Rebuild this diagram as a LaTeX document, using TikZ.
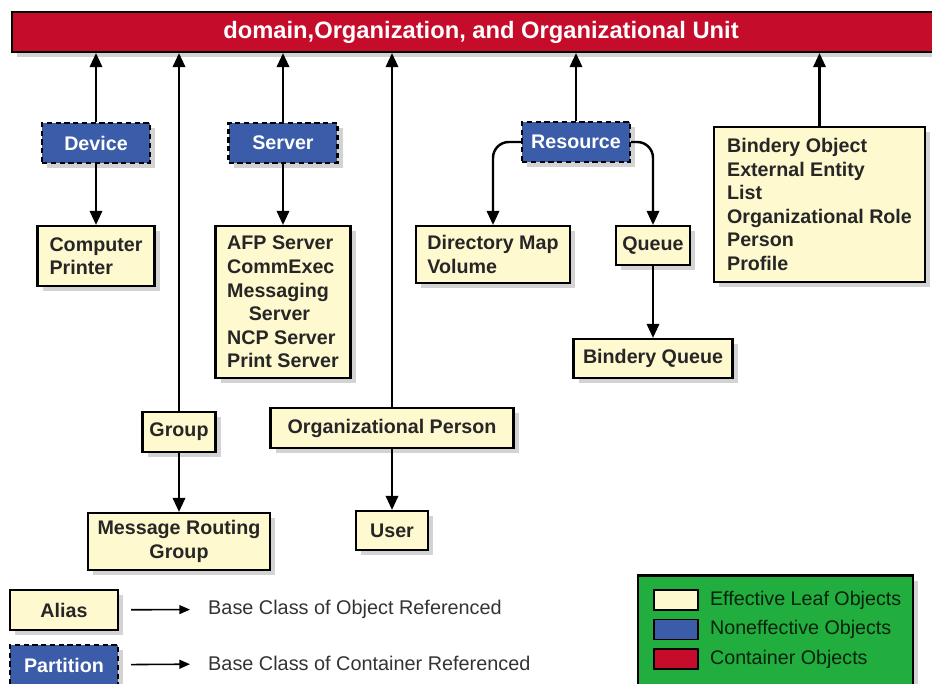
\documentclass[tikz,border=0pt]{standalone}
\usepackage{fontspec}
\setmainfont{Liberation Sans}
\usepackage{tikz}
\usetikzlibrary{positioning, calc, shapes, arrows.meta, shadows}
\definecolor{barred}{HTML}{C60C2B}
\definecolor{leafyellow}{HTML}{FFF9CF}
\definecolor{partblue}{HTML}{3A5CA9}
\definecolor{keygreen}{HTML}{22AD3F}

\begin{document}
\begin{tikzpicture}[x=0.02cm, y=-0.02cm, ->, >={Triangle[width=7pt,length=8pt]}, line width=1.4pt,
  box/.style={draw=black, line width=1.2pt, align=left, inner sep=0pt,
    font=\fontsize{11.2}{13.4}\selectfont\bfseries,
    drop shadow={shadow xshift=3pt, shadow yshift=-3pt, opacity=.35}},
  leaf/.style={box, fill=leafyellow, text=black!85},
  nonleaf/.style={box, fill=partblue, text=white, dash pattern=on 3pt off 2pt},
  swatch/.style={draw=black, line width=1pt, minimum width=0.88cm, minimum height=0.4cm, inner sep=0pt},
  keytext/.style={inner sep=0pt, anchor=west, text=black!80!keygreen, font=\fontsize{11.2}{13}\selectfont},
  basetext/.style={inner sep=0pt, anchor=west, text=black!80, font=\fontsize{11.3}{13}\selectfont}]
  \useasboundingbox (0,0) rectangle (932,683);

  \node[box, fill=barred, text=white, align=center, minimum width=18.76cm, minimum height=0.8cm,
    font=\fontsize{13.5}{15}\selectfont\bfseries] (bar) at (481,32) {domain,Organization, and Organizational Unit};

  \node[nonleaf, minimum width=2.16cm, minimum height=0.8cm] (device) at (96,143) {Device};
  \node[nonleaf, minimum width=2.18cm, minimum height=0.8cm] (server) at (283,143) {Server};
  \node[nonleaf, minimum width=2.16cm, minimum height=0.8cm] (resource) at (576,142) {Resource};

  \node[leaf, minimum width=2.34cm, minimum height=1.2cm] (comp) at (96,256) {Computer\\Printer};
  \node[leaf, minimum width=2.7cm, minimum height=3.04cm] (afp) at (283,302)
    {AFP Server\\CommExec\\Messaging\\\hspace*{1.1em}Server\\NCP Server\\Print Server};
  \node[leaf, minimum width=3.08cm, minimum height=1.14cm] (dirmap) at (493,254.5) {Directory Map\\Volume};
  \node[leaf, minimum width=1.48cm, minimum height=0.78cm] (queue) at (653,245.5) {Queue};
  \node[leaf, minimum width=3.18cm, minimum height=0.78cm] (binderyq) at (653,358.5) {Bindery Queue};
  \node[leaf, minimum width=4.22cm, minimum height=3.1cm] (bindery) at (819.5,204.5)
    {Bindery Object\\External Entity\\List\\Organizational Role\\Person\\Profile};

  \node[leaf, minimum width=1.46cm, minimum height=0.8cm] (group) at (179,432) {Group};
  \node[leaf, align=center, minimum width=3.64cm, minimum height=1.14cm] (msgroute) at (179,541.5) {Message Routing\\Group};
  \node[leaf, minimum width=4.86cm, minimum height=0.8cm] (orgperson) at (392,428) {Organizational Person};
  \node[leaf, minimum width=1.44cm, minimum height=0.78cm] (user) at (392,530.5) {User};

  \path
    (device) edge (device |- bar.south)
    (group) edge (group |- bar.south)
    (server) edge (server |- bar.south)
    (orgperson) edge (orgperson |- bar.south)
    (resource) edge (resource |- bar.south)
    (bindery) edge (bindery |- bar.south)
    (device) edge (comp)
    (server) edge (afp)
    (group) edge (msgroute)
    (orgperson) edge (user)
    (queue) edge (binderyq);
  \draw[rounded corners=9pt] (resource.west) -| (dirmap.north);
  \draw[rounded corners=9pt] (resource.east) -| (queue.north);

  \node[leaf, minimum width=2.16cm, minimum height=0.8cm] (alias) at (64,610) {Alias};
  \node[nonleaf, minimum width=2.16cm, minimum height=0.8cm] (partition) at (64,665) {Partition};
  \node[basetext] (aliasdesc) at (207,609) {Base Class of Object Referenced};
  \node[basetext] (partdesc) at (207,663) {Base Class of Container Referenced};
  \path[line width=0.9pt, >={Triangle[width=5pt,length=6pt]}, shorten <=0.24cm, shorten >=0.34cm]
    (alias) edge (aliasdesc)
    (partition) edge (partdesc);

  \node[draw=black, fill=keygreen, line width=1.2pt, minimum width=5.5cm, minimum height=2.34cm,
    drop shadow={shadow xshift=3pt, shadow yshift=-3pt, opacity=.35}] (legend) at (775.5,634) {};
  \node[swatch, fill=leafyellow] (swleaf) at (676,600) {};
  \node[swatch, fill=partblue] (swnon) at (676,629.5) {};
  \node[swatch, fill=barred] (swcont) at (676,659) {};
  \node[keytext, right=0.2cm of swleaf] (txleaf) {Effective Leaf Objects};
  \node[keytext, right=0.2cm of swnon] (txnon) {Noneffective Objects};
  \node[keytext, right=0.2cm of swcont] (txcont) {Container Objects};
\end{tikzpicture}
\end{document}
